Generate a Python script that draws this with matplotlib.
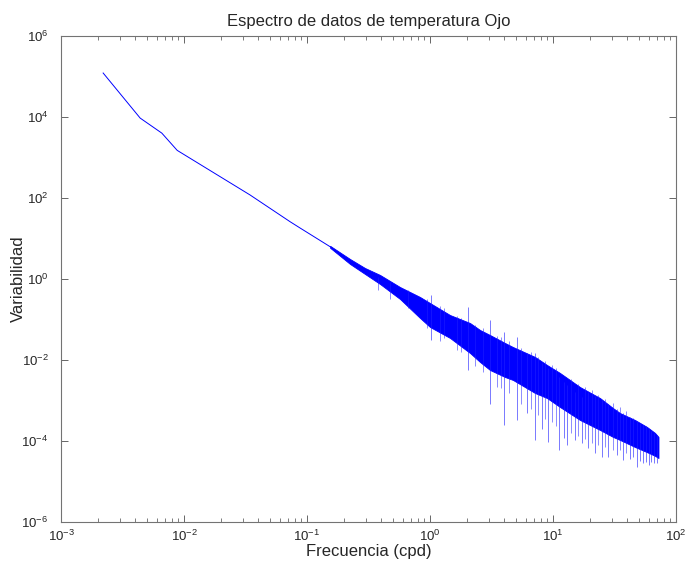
import numpy as np
import matplotlib.pyplot as plt
from matplotlib.ticker import LogLocator, NullLocator, NullFormatter

plt.rcParams['font.family'] = ['Liberation Sans', 'DejaVu Sans']
plt.rcParams['mathtext.fontset'] = 'custom'
plt.rcParams['mathtext.rm'] = 'Liberation Sans'

# low-frequency part of the spectrum (single clean line)
freq_low = [0.0022, 0.0044, 0.0066, 0.0088, 0.0344, 0.0728, 0.0877, 0.154]
var_low = [1.22e5, 9.4e3, 4.0e3, 1.5e3, 119, 26.0, 18.2, 6.28]

# noisy part: upper / lower edge of the band
freq_band = [0.154, 0.2237, 0.2961, 0.3922, 0.5703, 0.8291, 1.0, 1.454, 2.114, 2.550,
             3.074, 4.072, 4.729, 7.141, 8.938, 11.40, 16.58, 24.11, 30.74, 35.05,
             46.42, 58.10, 67.50, 72.0]
var_upper = [6.6, 3.12, 1.87, 1.26, 0.634, 0.36, 0.255, 0.129, 0.082, 0.0551,
             0.0414, 0.0263, 0.0209, 0.0119, 0.00753, 0.00478, 0.00215, 0.00115, 6.5e-4, 4.9e-4,
             3.3e-4, 2.22e-4, 1.58e-4, 1.26e-4]
var_lower = [5.9, 2.35, 1.33, 0.753, 0.321, 0.109, 0.0653, 0.035, 0.0149, 0.00893,
             0.00566, 0.0038, 0.00321, 0.00153, 0.00115, 6.9e-4, 3.3e-4, 1.87e-4, 1.26e-4, 1.06e-4,
             7.1e-5, 5.3e-5, 4.3e-5, 3.8e-5]

# narrow peaks / dips sticking out of the band
spike_f = [1.02, 2.05, 3.08, 4.0, 5.07, 6.1, 7.14, 8.1, 9.16, 11.2, 12.3, 13.1, 15.1, 17.1,
           19.4, 21.9, 24.9, 28.2, 33.0, 37.3, 42.0, 44.5, 47.9, 51.0, 54.2, 57.0, 60.0,
           63.0, 66.5, 70.0]
spike_lo = [0.031, 5.7e-3, 8.0e-4, 2.5e-4, 3.3e-4, 5.0e-4, 1.06e-4, 2.0e-4, 9.4e-5, 6.0e-5,
            1.2e-4, 7.9e-5, 1.06e-4, 8.9e-5, 6.7e-5, 5.0e-5, 4.0e-5, 4.0e-5, 4.5e-5, 3.4e-5,
            3.5e-5, 4.0e-5, 2.3e-5, 3.2e-5, 2.9e-5, 3.0e-5, 2.6e-5, 3.0e-5, 2.8e-5, 2.9e-5]
spike_hi = [0.40, 0.207, 0.097, 0.05, 0.038, 0.0148, 0.0148, 8.5e-3, 6.3e-3, 3.9e-3,
            2.9e-3, 2.4e-3, 1.65e-3, 1.24e-3, 1.6e-3, 1.3e-3, 1.0e-3, 8.0e-4, 6.0e-4, 4.9e-4,
            3.9e-4, 3.6e-4, 3.1e-4, 2.8e-4, 2.5e-4, 2.3e-4, 2.0e-4, 1.8e-4, 1.6e-4, 1.4e-4]

# smaller wiggles on both edges of the band
hair_f = [0.38, 0.47, 0.66, 0.94, 1.2, 1.3, 1.65, 1.8, 2.3, 2.7, 3.5, 3.8, 4.4, 5.5, 6.6,
          7.6, 8.6, 9.8, 10.5, 14.0, 16.0, 18.2, 20.6, 23.3, 26.5, 30.5, 35.0, 39.5]
hair_lo = [0.55, 0.33, 0.19, 0.062, 0.03, 0.035, 0.018, 0.016, 0.007, 0.005, 0.0022, 0.002,
           0.0015, 8e-4, 6e-4, 4.5e-4, 3.5e-4, 3e-4, 2.4e-4, 1.6e-4, 1.3e-4, 1.1e-4, 9e-5,
           8e-5, 7e-5, 6e-5, 6e-5, 5e-5]
hair_hi = [1.1, 0.85, 0.55, 0.33, 0.21, 0.19, 0.12, 0.11, 0.075, 0.06, 0.04, 0.036, 0.03,
           0.02, 0.016, 0.012, 0.0095, 0.0075, 0.0062, 0.0033, 0.0026, 0.0021, 0.0018,
           0.0014, 0.0011, 8.5e-4, 6.8e-4, 5.6e-4]

fig = plt.figure(figsize=(6.88, 5.68), dpi=100)
ax = fig.add_axes([0.0887, 0.081, 0.8939, 0.8556])

ax.loglog(freq_low, var_low, color='#0000ff', lw=0.7)
ax.fill_between(freq_band, var_upper, var_lower, color='#0000ff', lw=0.6)
ax.vlines(spike_f, spike_lo, spike_hi, color='#2020ff', lw=0.7, alpha=0.6)
ax.vlines(hair_f, hair_lo, hair_hi, color='#2020ff', lw=0.6, alpha=0.6)

ax.set_xlim(1e-3, 1e2)
ax.set_ylim(1e-6, 1e6)
ax.set_yticks([1e-6, 1e-4, 1e-2, 1e0, 1e2, 1e4, 1e6])
ax.yaxis.set_minor_locator(NullLocator())
ax.xaxis.set_major_locator(LogLocator(base=10, numticks=10))
ax.xaxis.set_minor_locator(LogLocator(base=10, subs=np.arange(2, 10), numticks=10))
ax.xaxis.set_minor_formatter(NullFormatter())

ax.tick_params(which='both', direction='in', top=True, right=True, colors='0.4',
               labelcolor='0.15', labelsize=9.5)
ax.tick_params(which='major', length=5, width=0.7)
ax.tick_params(which='minor', length=3, width=0.6)
ax.tick_params(axis='y', pad=9)
ax.tick_params(axis='x', pad=5)
for s in ax.spines.values():
    s.set_color('0.45')
    s.set_linewidth(0.8)

ax.set_title('Espectro de datos de temperatura Ojo', fontsize=12, color='0.15', pad=7)
ax.set_xlabel('Frecuencia (cpd)', fontsize=12, color='0.15', labelpad=0)
ax.set_ylabel('Variabilidad', fontsize=12, color='0.15', labelpad=-3)

fig.savefig('out.png', dpi=100)
